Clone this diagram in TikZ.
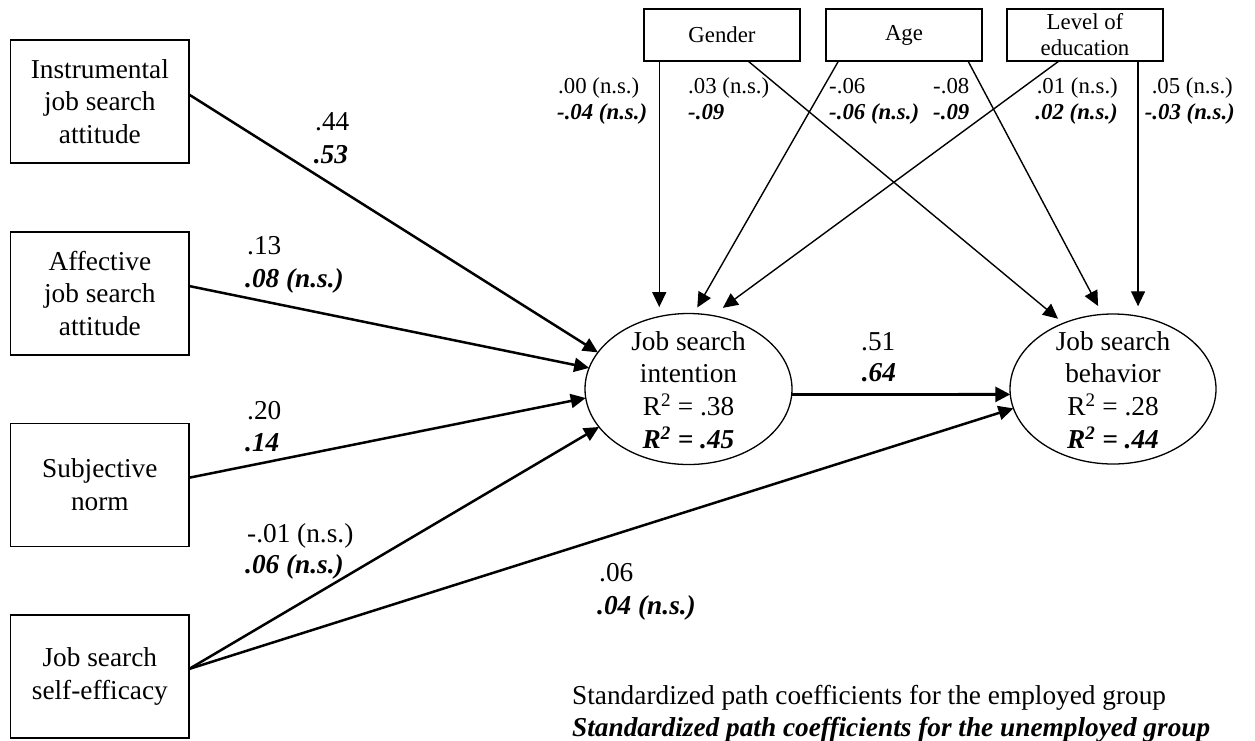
\documentclass[tikz,border=0pt]{standalone}
\usepackage{fontspec}
\setmainfont{Liberation Serif}
\usetikzlibrary{arrows.meta,shapes.geometric,calc}
\begin{document}
\begin{tikzpicture}[x=1pt,y=-1pt,
  big/.style={font=\fontsize{27.3}{32.8}\selectfont},
  sml/.style={font=\fontsize{22.8}{26}\selectfont},
  lbox/.style={draw, line width=1.3pt, rectangle, minimum width=178.3pt, minimum height=123pt, inner sep=0pt, outer sep=0pt, align=center, big},
  tbox/.style={draw, line width=1.3pt, rectangle, minimum width=156pt, minimum height=52pt, inner sep=0pt, outer sep=0pt, align=center, sml},
  ell/.style={draw, ellipse, line width=1.3pt, inner sep=0pt, outer sep=0pt},
  ltxt/.style={big, inner sep=0pt, anchor=base west},
  ttxt/.style={sml, inner sep=0pt},
  thinarr/.style={line width=1.4pt, -{Triangle[length=15pt,width=14pt]}},
  thickarr/.style={line width=2.5pt, -{Triangle[length=15pt,width=14pt]}}
]
\useasboundingbox[fill=white] (0,0) rectangle (1255,740);

% left boxes
\node[lbox] (instr) at (99.85,101.5) {Instrumental\\job search\\attitude};
\node[lbox] (affec) at (99.85,293.5) {Affective\\job search\\attitude};
\node[lbox] (subj)  at (99.85,484.75) {Subjective\\norm};
\node[lbox] (selfe) at (99.85,676.5) {Job search\\self-efficacy};

% top boxes
\node[tbox] (gender) at (722,35) {Gender};
\node[tbox] (age)    at (904,35) {Age};
\node[tbox] (level) at (1085,35) {Level of\\education};

% ellipses
\node[ell, minimum width=207pt, minimum height=151pt] (intent) at (688.5,389) {};
\node[ell, minimum width=206pt, minimum height=150pt] (behav) at (1113,389) {};
\node[big, align=center, inner sep=0pt] (intentT) at (688.5,390) {Job search\\intention\\R\textsuperscript{2} = .38\\\textbf{\textit{R\textsuperscript{2} = .45}}};
\node[big, align=center, inner sep=0pt] (behavT) at (1113,390) {Job search\\behavior\\R\textsuperscript{2} = .28\\\textbf{\textit{R\textsuperscript{2} = .44}}};

% left arrows
\draw[thickarr] ($(instr.east)+(0,-7)$) -- (intent.158.4);
\draw[thickarr] ($(affec.east)+(0,-7.5)$) -- (intent.168.1);
\draw[thickarr] ($(subj.east)+(0,-7)$) -- (intent.185.0);
\draw[thickarr] ($(selfe.east)+(0,-7.5)$) -- (intent.203.0);
\draw[thickarr] ($(selfe.east)+(0,-7.5)$) -- (behav.191.9);
\draw[line width=2.8pt, -{Triangle[length=15pt,width=15pt]}] (intent.-3.9) -- (behav.183.9);

% top arrows
\draw[thinarr, shorten >=9.5pt] (gender.south -| intent.112.9) -- (intent.112.9);
\draw[thinarr, shorten >=7pt] ($(gender.south)+(26,0)$) -- (behav.127.6);
\draw[thinarr, shorten >=7pt] ($(age.south)+(-65.5,0)$) -- (intent.86.2);
\draw[thinarr, shorten >=9.5pt] ($(age.south)+(64,0)$) -- (behav.98.96);
\draw[thinarr, shorten >=13pt] ($(level.south)+(-26,0)$) -- (intent.72.3);
\draw[thinarr, shorten >=10pt] (level.south -| behav.71.79) -- (behav.71.79);

% labels on left paths
\node[ltxt] (l1a) at (315,130) {.44};
\node[ltxt] (l1b) at (313.6,163) {\textbf{\textit{.53}}};
\node[ltxt] (l2a) at (247,254) {.13};
\node[ltxt] (l2b) at (245,287) {\textbf{\textit{.08 (n.s.)}}};
\node[ltxt] (l3a) at (247,419) {.20};
\node[ltxt] (l3b) at (245,451) {\textbf{\textit{.14}}};
\node[ltxt] (l4a) at (247,542) {-.01 (n.s.)};
\node[ltxt] (l4b) at (245,573.5) {\textbf{\textit{.06 (n.s.)}}};
\node[ltxt] (l5a) at (599,581) {.06};
\node[ltxt] (l5b) at (597,614) {\textbf{\textit{.04 (n.s.)}}};
\node[ltxt] (l6a) at (861,350) {.51};
\node[ltxt] (l6b) at (861.7,381) {\textbf{\textit{.64}}};

% labels on top paths
\node[ttxt, anchor=base west] (t1a) at (558,93.5) {.00 (n.s.)};
\node[ttxt, anchor=base west] (t1b) at (557,119.5) {\textbf{\textit{-.04 (n.s.)}}};
\node[ttxt, anchor=base west] (t2a) at (688,93.5) {.03 (n.s.)};
\node[ttxt, anchor=base west] (t2b) at (688,119.5) {\textbf{\textit{-.09}}};
\node[ttxt, anchor=base west] (t3a) at (829,93.5) {-.06};
\node[ttxt, anchor=base west] (t3b) at (829,119.5) {\textbf{\textit{-.06 (n.s.)}}};
\node[ttxt, anchor=base west] (t4a) at (933,93.5) {-.08};
\node[ttxt, anchor=base west] (t4b) at (933,119.5) {\textbf{\textit{-.09}}};
\node[ttxt, anchor=base east] (t5a) at (1118,93.5) {.01 (n.s.)};
\node[ttxt, anchor=base east] (t5b) at (1118,119.5) {\textbf{\textit{.02 (n.s.)}}};
\node[ttxt, anchor=base east] (t6a) at (1233,93.5) {.05 (n.s.)};
\node[ttxt, anchor=base east] (t6b) at (1235,119.5) {\textbf{\textit{-.03 (n.s.)}}};

% legend
\node[ltxt] (leg1) at (572,704) {Standardized path coefficients for the employed group};
\node[ltxt] (leg2) at (572,736) {\textbf{\textit{Standardized path coefficients for the unemployed group}}};
\end{tikzpicture}
\end{document}
